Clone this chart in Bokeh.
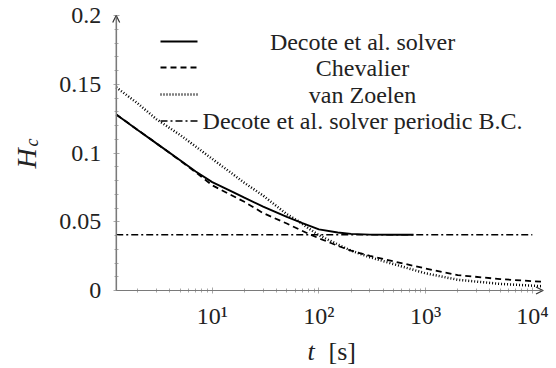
from bokeh.plotting import figure
from bokeh.models import FixedTicker, Label, Arrow, OpenHead
from bokeh.embed import file_html
from bokeh.resources import INLINE
import math

# ---------------- data ----------------
t_solver = [1.26, 2, 3, 5, 7, 10, 15, 20, 30, 50, 63, 70, 100, 150, 200, 300, 500, 770]
H_solver = [0.128, 0.1168, 0.107, 0.0947, 0.0866, 0.0788, 0.0722, 0.0675, 0.0610, 0.0535,
            0.0505, 0.0490, 0.0445, 0.0422, 0.0412, 0.0406, 0.0405, 0.0405]

t_chev = [1.26, 2, 3, 5, 7, 10, 15, 20, 30, 50, 80, 100, 150, 200, 300, 500, 1000, 2000, 5000, 12589]
H_chev = [0.128, 0.1168, 0.107, 0.0945, 0.0860, 0.0765, 0.0695, 0.0645, 0.0563, 0.0487,
          0.0412, 0.0380, 0.0325, 0.0290, 0.0252, 0.0212, 0.0160, 0.0112, 0.0083, 0.0063]

t_vz = [1.26, 2, 3, 5, 7, 10, 15, 20, 30, 50, 63, 80, 100, 150, 200, 300, 500, 1000, 2000, 5000, 12589]
H_vz = [0.1478, 0.1361, 0.1246, 0.1131, 0.1047, 0.0957, 0.0856, 0.0783, 0.0690, 0.0555,
        0.0508, 0.0452, 0.0402, 0.0335, 0.0290, 0.0242, 0.0192, 0.0125, 0.0078, 0.0048, 0.0031]

t_periodic = [1.26, 10000]
H_periodic = [0.0405, 0.0405]

series_names = ["Decote et al. solver", "Chevalier", "van Zoelen",
                "Decote et al. solver periodic B.C."]

y_ticks = [0, 0.05, 0.1, 0.15, 0.2]
y_tick_labels = ["0", "0.05", "0.1", "0.15", "0.2"]
x_ticks = [10, 100, 1000, 10000]
x_tick_labels = ["10\u00b9", "10\u00b2", "10\u00b3", "10\u2074"]

# axis extents (log10 of t from 0.1 to 4.1, H from 0 to 0.2)
x_lo, x_hi = 10 ** 0.1, 10 ** 4.1
y_lo, y_hi = 0.0, 0.2

# ---------------- layout geometry (pixels) ----------------
W, H = 556, 368
AX_LEFT, AX_RIGHT, AX_TOP, AX_BOTTOM = 115.7, 542.5, 15.0, 290.0
px_per_decade = (AX_RIGHT - AX_LEFT) / (math.log10(x_hi) - math.log10(x_lo))
px_per_unit = (AX_BOTTOM - AX_TOP) / (y_hi - y_lo)
view_x0 = 10 ** (math.log10(x_lo) - AX_LEFT / px_per_decade)
view_x1 = 10 ** (math.log10(x_hi) + (W - AX_RIGHT) / px_per_decade)
view_y0 = y_lo - (H - AX_BOTTOM) / px_per_unit
view_y1 = y_hi + AX_TOP / px_per_unit

FONT = "Liberation Serif"
AX = "#7a7a7a"
TK = "#a8a8a8"
TXT = "#222222"

p = figure(width=W, height=H, x_axis_type="log",
           x_range=(view_x0, view_x1), y_range=(view_y0, view_y1),
           output_backend="svg", toolbar_location=None, min_border=0)
p.outline_line_color = None
p.grid.visible = False

styles = [dict(line_dash="solid", line_width=1.9),
          dict(line_dash="6 4", line_width=1.8),
          dict(line_dash="1 2", line_width=2.5),
          dict(line_dash="7 3 2 3", line_width=1.6)]

p.line(t_solver, H_solver, line_color="black", **styles[0])
p.line(t_chev, H_chev, line_color="black", **styles[1])
p.line(t_vz, H_vz, line_color="black", **styles[2])
p.line(t_periodic, H_periodic, line_color="black", **styles[3])

# axes, placed at H = 0 and t = x_lo inside the plotting area
minor_y = [i / 100 for i in range(0, 21)]
minor_x = [m * 10 ** k for k in range(0, 5) for m in range(2, 10)]
p.yaxis.ticker = FixedTicker(ticks=y_ticks, minor_ticks=minor_y)
p.xaxis.ticker = FixedTicker(ticks=x_ticks, minor_ticks=minor_x)
p.yaxis.major_label_overrides = {k: v for k, v in zip(y_ticks, y_tick_labels)}
p.xaxis.major_label_overrides = {k: v for k, v in zip(x_ticks, x_tick_labels)}
p.xaxis.fixed_location = y_lo
p.yaxis.fixed_location = x_lo
p.xaxis.bounds = (x_lo, x_hi)
p.yaxis.bounds = (y_lo, y_hi)

for ax in (p.xaxis[0], p.yaxis[0]):
    ax.axis_line_color = AX
    ax.axis_line_width = 1.2
    ax.major_tick_line_color = TK
    ax.minor_tick_line_color = TK
    ax.major_tick_in = 3
    ax.major_tick_out = 3
    ax.minor_tick_in = 2
    ax.minor_tick_out = 2
    ax.major_label_text_font = FONT
    ax.major_label_text_font_size = "24px"
    ax.major_label_text_color = TXT
p.yaxis.major_label_standoff = 12
p.xaxis.major_label_standoff = 9

# axis arrows
p.add_layout(Arrow(x_start=x_lo, y_start=y_lo, x_end=x_lo, y_end=y_hi,
                   line_color=AX, line_width=1.2,
                   end=OpenHead(size=7, line_color="#333333", line_width=1.2)))
p.add_layout(Arrow(x_start=x_lo, y_start=y_lo, x_end=x_hi, y_end=y_lo,
                   line_color=AX, line_width=1.2,
                   end=OpenHead(size=7, line_color="#333333", line_width=1.2)))

# legend (centered text like the reference); screen units, y measured from bottom
rows_y = [H - 41, H - 67, H - 94, H - 120.5]
for name, st, ry in zip(series_names, styles, rows_y):
    p.add_layout(Arrow(x_start=160, y_start=ry, x_end=197, y_end=ry,
                       start_units="screen", end_units="screen",
                       start=None, end=None, line_color="black", **st))
    p.add_layout(Label(x=362, y=ry, x_units="screen", y_units="screen", text=name,
                       text_font=FONT, text_font_size="24px", text_color=TXT,
                       text_align="center", text_baseline="middle"))

# y axis title: H_c (rotated, reading upwards)
p.add_layout(Label(x=25.5, y=H - 168, x_units="screen", y_units="screen", text="H",
                   angle=math.pi / 2, text_font=FONT, text_font_style="italic",
                   text_font_size="28px", text_color=TXT,
                   text_baseline="middle", text_align="left"))
p.add_layout(Label(x=31.5, y=H - 146, x_units="screen", y_units="screen", text="c",
                   angle=math.pi / 2, text_font=FONT, text_font_style="italic",
                   text_font_size="18px", text_color=TXT,
                   text_baseline="middle", text_align="left"))

# x axis title: t [s]
p.add_layout(Label(x=307, y=H - 351, x_units="screen", y_units="screen", text="t",
                   text_font=FONT, text_font_style="italic", text_font_size="26px",
                   text_color=TXT, text_baseline="middle", text_align="left"))
p.add_layout(Label(x=328, y=H - 351, x_units="screen", y_units="screen", text="[s]",
                   text_font=FONT, text_font_size="26px", text_color=TXT,
                   text_baseline="middle", text_align="left"))

open("out.html", "w").write(file_html(p, INLINE))
